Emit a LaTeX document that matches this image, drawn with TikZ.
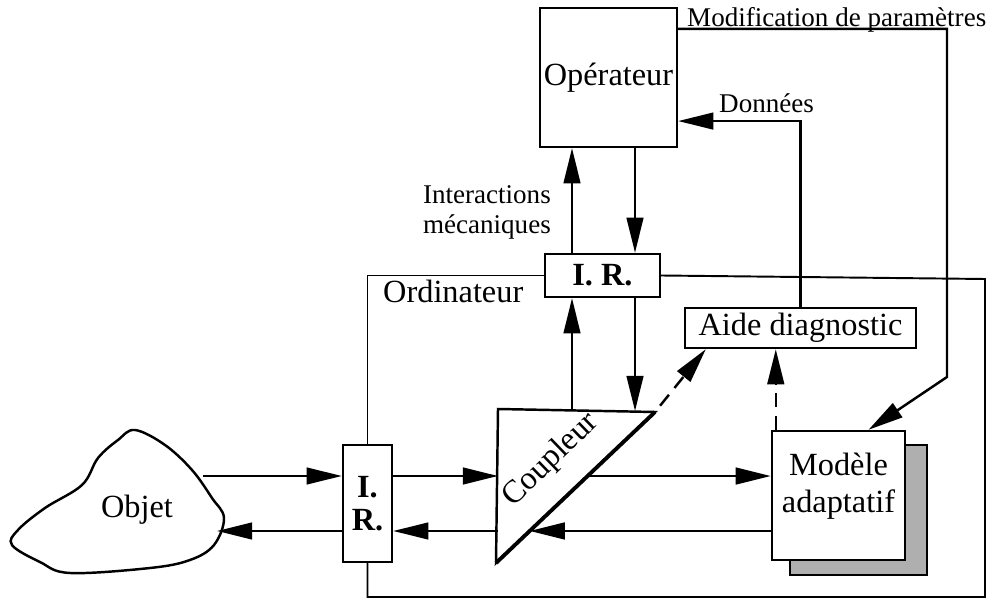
\documentclass[tikz,border=0pt]{standalone}
\usepackage{fontspec}
\setmainfont{Liberation Serif}
\usetikzlibrary{arrows.meta,positioning,calc}
\definecolor{shadegray}{RGB}{175,175,175}

\begin{document}
\begin{tikzpicture}[x=0.02cm, y=-0.02cm, line width=1.4pt,
    arr/.style={-{Triangle[length=20pt,width=9.5pt]}},
    dsh/.style={dash pattern=on 8pt off 5pt},
    box/.style={draw, fill=white, inner sep=0pt, align=center, font=\fontsize{18.4}{21}\selectfont},
    irbox/.style={box, font=\fontsize{18.4}{19}\selectfont\bfseries},
    lbl/.style={inner sep=0pt, font=\fontsize{15.4}{17}\selectfont}]
    \useasboundingbox (0,0) rectangle (988,604);

    \node[box, minimum width=2.74cm, minimum height=2.78cm] (oper) at (608.5,77.5) {Opérateur};
    \node[irbox, minimum width=2.3cm, minimum height=0.86cm] (irtop) at (602.5,275.5) {I. R.};
    \node[irbox, minimum width=0.98cm, minimum height=2.34cm] (irleft) at (367.5,503.5) {I.\\R.};
    \node[box, minimum width=4.62cm, minimum height=0.8cm] (aide) at (800.5,328) {Aide diagnostic};
    \draw[fill=shadegray] (790,445) rectangle (927,575);
    \node[box, minimum width=2.66cm, minimum height=2.58cm, text depth=0.5cm] (modele) at (838.5,495.5) {Modèle\\adaptatif};

    \coordinate (cplTL) at (498,409);
    \coordinate (cplTR) at (655,412);
    \coordinate (cplBL) at (496,563);
    \draw[line join=miter] (cplTL) -- (cplTR) -- (cplBL) -- cycle;
    \draw[line width=2.2pt] (cplTR) -- (cplBL);
    \node[rotate=44, font=\fontsize{18.4}{21}\selectfont] (coupleur) at (551,460) {Coupleur};

    \draw plot[smooth cycle, tension=0.6] coordinates {(135,430) (165,445) (192,470) (212,498) (224,518)
        (214,545) (190,560) (150,568) (70,573) (40,562) (12,545) (18,530) (45,508) (82,485) (98,458) (118,440)};
    \node[font=\fontsize{18.4}{21}\selectfont] (objet) at (137,510) {Objet};

    \coordinate (frNE) at (985,279);
    \coordinate (frSE) at (985,597);
    \draw[line width=1.1pt] (irleft.north) |- (irtop.west);
    \draw[line width=1.1pt] (irtop.east) -- (frNE) -- (frSE) -| (irleft.south);
    \node[anchor=base west, inner sep=0pt, font=\fontsize{18.4}{21}\selectfont] (ordi) at (382,303) {Ordinateur};

    \coordinate (lvA) at (0,476);
    \coordinate (lvB) at (0,531);
    \coordinate (objA) at (203,476);
    \coordinate (objB) at (217,531);
    \draw[arr] (objA) -- (objA -| irleft.west);
    \draw[arr] (objB -| irleft.west) -- (objB);
    \draw[arr] (irleft.east |- lvA) -- (cplTL |- lvA);
    \draw[arr] (cplTL |- lvB) -- (irleft.east |- lvB);

    \coordinate (hypA) at ($(cplTR)!0.424!(cplBL)$);
    \coordinate (hypB) at ($(cplTR)!0.788!(cplBL)$);
    \draw[arr] (hypA) -- (hypA -| modele.west);
    \draw[arr] (hypB -| modele.west) -- (hypB);

    \coordinate (cupA) at (572,410);
    \coordinate (cdnA) at (635,411);
    \draw[arr] (cupA) -- (cupA |- irtop.south);
    \draw[arr] (cupA |- irtop.north) -- (cupA |- oper.south);
    \draw[arr] (cdnA |- oper.south) -- (cdnA |- irtop.north);
    \draw[arr] (cdnA |- irtop.south) -- (cdnA);
    \node[lbl, align=right, anchor=east] (interact) at (552,212) {Interactions\\mécaniques};

    \coordinate (dashEnd) at ($(aide.south west)+(22,0)$);
    \coordinate (mdA) at ($(modele.north west)+(5,0)$);
    \draw[arr, dsh] ($(cplTR)!0.1!(dashEnd)$) -- (dashEnd);
    \draw[arr, dsh] (mdA) -- (mdA |- aide.south);

    \coordinate (donIn) at (oper.-32);
    \draw[arr] (aide.north) |- (donIn);
    \node[lbl, anchor=base west] (donnees) at (718,113) {Données};

    \coordinate (modOut) at ($(oper.north east)+(0,22)$);
    \coordinate (modBend) at (947,377);
    \coordinate (modIn) at ($(modele.north)+(30,0)$);
    \draw[arr] (modOut) -| (modBend) -- (modIn);
    \node[lbl, anchor=base west] (modif) at (686,27) {Modification de paramètres};
\end{tikzpicture}
\end{document}
